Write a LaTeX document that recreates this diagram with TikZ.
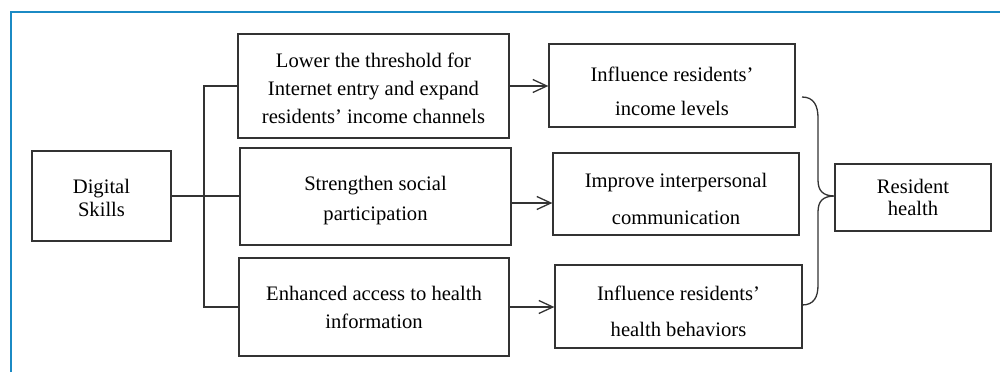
\documentclass[tikz,border=0pt]{standalone}
\usepackage{fontspec}
\setmainfont{Liberation Serif}
\usetikzlibrary{arrows.meta}
\definecolor{framebl}{HTML}{1B8AC4}
\definecolor{ink}{HTML}{333333}
\begin{document}
\begin{tikzpicture}[x=1pt,y=-1pt,
  box/.style={draw=ink,line width=1.3pt,rectangle,inner sep=0pt},
  txt/.style={font=\fontsize{20.6}{#1}\selectfont,align=center,anchor=base,inner sep=0pt},
  link/.style={draw=ink,line width=1.3pt},
  arr/.style={link,-{Straight Barb[length=14pt,width=13pt,line width=1.3pt]}},
]
\useasboundingbox (0,0) rectangle (1000,372);
% frame lines along the top and left
\draw[framebl,line width=2.5pt] (11,372) -- (11,12) -- (1000,12);

% boxes
\node[box,minimum width=139pt,minimum height=90pt]  (ds) at (101.5,196) {};
\node[box,minimum width=271pt,minimum height=104pt] (b1) at (373.5,86) {};
\node[box,minimum width=271pt,minimum height=97pt]  (b2) at (375.5,196.5) {};
\node[box,minimum width=270pt,minimum height=98pt]  (b3) at (374,307) {};
\node[box,minimum width=246pt,minimum height=83pt]  (b4) at (672,85.5) {};
\node[box,minimum width=246pt,minimum height=82pt]  (b5) at (676,194) {};
\node[box,minimum width=247pt,minimum height=83pt]  (b6) at (678.5,306.5) {};
\node[box,minimum width=156pt,minimum height=67pt]  (rh) at (913,197.5) {};

% box texts, placed by the baseline of their last line
\node[txt=22.7] (tds) at (101.5,216) {Digital\\Skills};
\node[txt=27.8] (tb1) at (373.5,123.3) {Lower the threshold for\\Internet entry and expand\\residents’ income channels};
\node[txt=30]   (tb2) at (375.5,220) {Strengthen social\\participation};
\node[txt=28]   (tb3) at (374,328) {Enhanced access to health\\information};
\node[txt=34.7] (tb4) at (672,115.7) {Influence residents’\\income levels};
\node[txt=36.6] (tb5) at (676,224.3) {Improve interpersonal\\communication};
\node[txt=36.7] (tb6) at (678.5,336.7) {Influence residents’\\health behaviors};
\node[txt=22.4] (trh) at (913,215.7) {Resident\\health};

% tree from Digital Skills to the three pathways
\coordinate (jn) at (204,196);
\draw[link] (ds.east) -- (ds.east -| b2.west);
\draw[link] (b1.west) -| (jn) |- (b3.west);

% arrows to the effects
\coordinate (y2) at (0,203);
\draw[arr] (b1.east) -- (b1.east -| b4.west);
\draw[arr] (b2.east |- y2) -- (b5.west |- y2);
\draw[arr] (b3.east) -- (b3.east -| b6.west);

% brace gathering the effects into resident health
\coordinate (bt) at (802,97);
\coordinate (bm) at (835,196);
\coordinate (bb) at (802,305);
\draw[link] (bt) .. controls +(12,0) and +(0,-12) .. ++(16,21) -- ++(0,62)
  .. controls +(0,11) and +(-12,0) .. (bm)
  .. controls +(-12,0) and +(0,-11) .. ++(-17,16) -- ++(0,73)
  .. controls +(0,12) and +(12,0) .. (bb);
\end{tikzpicture}
\end{document}
